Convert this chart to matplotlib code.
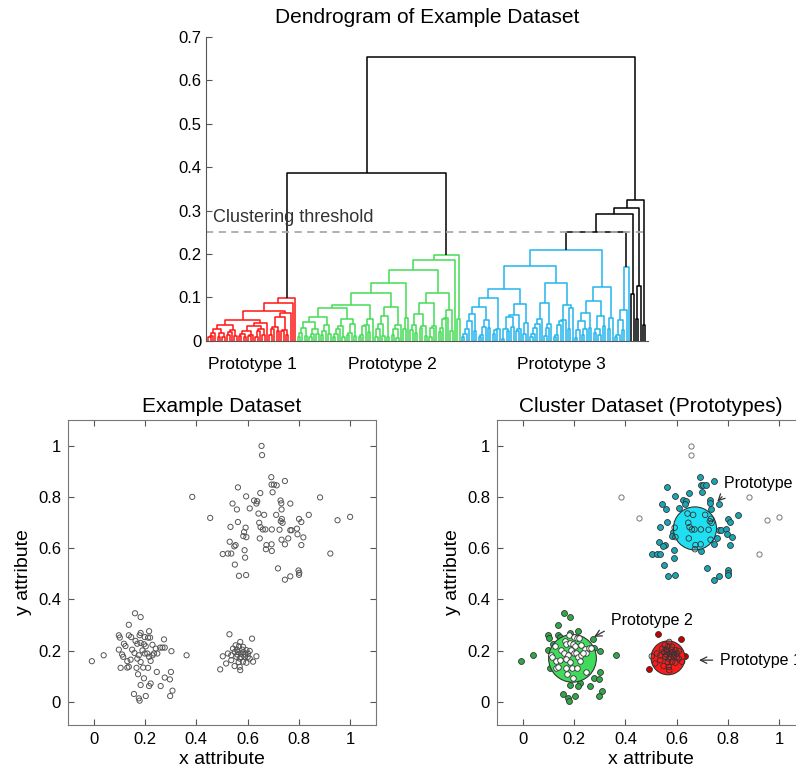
import numpy as np
import matplotlib
matplotlib.use('Agg')
import matplotlib.pyplot as plt
from matplotlib.patches import Circle
from matplotlib.ticker import FuncFormatter

plt.rcParams['font.family'] = ['Liberation Sans', 'DejaVu Sans']

# points
red_x = [0.529, 0.617, 0.571, 0.553, 0.566, 0.582, 0.543, 0.558, 0.595, 0.608,
         0.562, 0.575, 0.601, 0.584, 0.503, 0.536, 0.556, 0.588, 0.634, 0.569,
         0.608, 0.621, 0.516, 0.582, 0.595, 0.549, 0.569, 0.493, 0.571, 0.536,
         0.523, 0.579, 0.560, 0.590, 0.550, 0.575, 0.600, 0.565]
red_y = [0.264, 0.247, 0.234, 0.221, 0.217, 0.215, 0.208, 0.204, 0.202, 0.199,
         0.195, 0.189, 0.189, 0.194, 0.178, 0.182, 0.176, 0.176, 0.178, 0.169,
         0.169, 0.157, 0.150, 0.157, 0.153, 0.140, 0.137, 0.127, 0.124, 0.163,
         0.189, 0.204, 0.185, 0.185, 0.195, 0.175, 0.175, 0.155]

green_x = [0.161, 0.183, 0.137, 0.098, 0.102, 0.137, 0.146, 0.183, 0.179, 0.199,
           0.212, 0.220, 0.216, 0.163, 0.170, 0.183, 0.274, 0.118, 0.124, 0.196,
           0.203, 0.229, 0.242, 0.248, 0.259, 0.268, 0.277, 0.098, 0.150, 0.159,
           0.190, 0.199, 0.209, 0.303, 0.362, 0.039, -0.007, 0.111, 0.115, 0.176,
           0.170, 0.216, 0.229, 0.235, 0.131, 0.144, 0.183, 0.222, 0.105, 0.131,
           0.137, 0.167, 0.193, 0.212, 0.246, 0.301, 0.173, 0.196, 0.277, 0.297,
           0.222, 0.216, 0.183, 0.261, 0.307, 0.298, 0.157, 0.176, 0.179, 0.203]
green_y = [0.346, 0.331, 0.301, 0.260, 0.251, 0.260, 0.253, 0.269, 0.260, 0.253,
           0.251, 0.251, 0.276, 0.238, 0.227, 0.230, 0.244, 0.227, 0.218, 0.225,
           0.217, 0.223, 0.208, 0.189, 0.212, 0.212, 0.212, 0.204, 0.204, 0.191,
           0.201, 0.189, 0.189, 0.198, 0.182, 0.182, 0.159, 0.185, 0.176, 0.182,
           0.169, 0.176, 0.182, 0.189, 0.159, 0.165, 0.156, 0.160, 0.133, 0.134,
           0.137, 0.133, 0.134, 0.133, 0.117, 0.117, 0.108, 0.092, 0.095, 0.088,
           0.072, 0.062, 0.066, 0.062, 0.044, 0.023, 0.031, 0.014, 0.005, 0.023]

cyan_x = [0.692, 0.745, 0.693, 0.702, 0.713, 0.697, 0.649, 0.562, 0.594, 0.625,
          0.637, 0.634, 0.541, 0.558, 0.608, 0.728, 0.731, 0.766, 0.642, 0.664,
          0.711, 0.732, 0.733, 0.729, 0.736, 0.800, 0.809, 0.838, 0.562, 0.533,
          0.645, 0.650, 0.659, 0.669, 0.694, 0.724, 0.766, 0.771, 0.792, 0.592,
          0.586, 0.583, 0.595, 0.647, 0.732, 0.758, 0.794, 0.817, 0.530, 0.553,
          0.548, 0.673, 0.693, 0.745, 0.809, 0.671, 0.694, 0.588, 0.590, 0.503,
          0.523, 0.536, 0.550, 0.718, 0.798, 0.801, 0.800, 0.566, 0.594, 0.745,
          0.766]
cyan_y = [0.877, 0.862, 0.848, 0.848, 0.845, 0.818, 0.815, 0.837, 0.802, 0.786,
          0.783, 0.774, 0.774, 0.751, 0.755, 0.786, 0.775, 0.774, 0.735, 0.730,
          0.730, 0.751, 0.714, 0.705, 0.699, 0.714, 0.702, 0.730, 0.702, 0.683,
          0.699, 0.682, 0.673, 0.673, 0.673, 0.672, 0.670, 0.670, 0.676, 0.680,
          0.663, 0.647, 0.643, 0.638, 0.633, 0.638, 0.654, 0.642, 0.625, 0.612,
          0.607, 0.612, 0.615, 0.615, 0.612, 0.596, 0.589, 0.592, 0.563, 0.577,
          0.579, 0.579, 0.536, 0.521, 0.513, 0.504, 0.496, 0.492, 0.495, 0.477,
          0.490]

outlier_x = [0.654, 0.656, 0.384, 0.454, 0.882, 0.950, 0.999, 0.922]
outlier_y = [0.999, 0.963, 0.800, 0.718, 0.798, 0.709, 0.722, 0.579]

# prototypes: order red, green, cyan
proto_names = ['Prototype 1', 'Prototype 2', 'Prototype 3']
proto_x = [0.566, 0.194, 0.671]
proto_y = [0.172, 0.170, 0.677]
proto_r = [0.066, 0.093, 0.084]

threshold = 0.25

groups_x = [red_x, green_x, cyan_x, outlier_x]
groups_y = [red_y, green_y, cyan_y, outlier_y]
pts = np.array([(x, y) for gx, gy in zip(groups_x, groups_y) for x, y in zip(gx, gy)])
grp = np.concatenate([np.full(len(g), k) for k, g in enumerate(groups_x)])
n = len(pts)

# average linkage (UPGMA)
D = np.sqrt(((pts[:, None, :] - pts[None, :, :]) ** 2).sum(-1))
np.fill_diagonal(D, np.inf)
ids = list(range(n))
sizes = np.ones(n)
children = {}
next_id = n
for step in range(n - 1):
    i, j = np.unravel_index(np.argmin(D), D.shape)
    h = D[i, j]
    children[next_id] = (ids[i], ids[j], h)
    new = (sizes[i] * D[i] + sizes[j] * D[j]) / (sizes[i] + sizes[j])
    D[i, :] = new
    D[:, i] = new
    D[i, i] = np.inf
    D[j, :] = np.inf
    D[:, j] = np.inf
    sizes[i] += sizes[j]
    ids[i] = next_id
    next_id += 1
root = next_id - 1

leaf_cache = {}
def leaves(node):
    if node < n:
        return [node]
    if node not in leaf_cache:
        a, b, _ = children[node]
        leaf_cache[node] = leaves(a) + leaves(b)
    return leaf_cache[node]

def height(node):
    return 0.0 if node < n else children[node][2]

xpos = {}
order = []
links = []
def place(node):
    if node < n:
        order.append(node)
        xpos[node] = len(order)
        return
    a, b, h = children[node]
    la, lb = leaves(a), leaves(b)
    ka = (grp[la].min(), -len(la))
    kb = (grp[lb].min(), -len(lb))
    if ka > kb:
        a, b = b, a
    place(a)
    place(b)
    xpos[node] = (xpos[a] + xpos[b]) / 2
    links.append((a, b, node))

place(root)

dend_colors = ['#ff1414', '#44dd55', '#22b4ee', 'black']

def link_color(node):
    h = height(node)
    if h >= threshold:
        return 'black'
    g = np.bincount(grp[leaves(node)], minlength=4).argmax()
    return dend_colors[g]

fig = plt.figure(figsize=(7.96, 7.82), dpi=100)

# dendrogram
axd = fig.add_axes([0.2588, 0.564, 0.555, 0.389])
for a, b, node in links:
    h = height(node)
    axd.plot([xpos[a], xpos[a], xpos[b], xpos[b]],
             [height(a), h, h, height(b)],
             color=link_color(node), lw=1.1, solid_capstyle='butt')
axd.axhline(threshold, color='#aaaaaa', lw=1.3, ls=(0, (4, 3)))
axd.text(0.016, 0.284, 'Clustering threshold', transform=axd.get_yaxis_transform(),
         fontsize=13, color='#333333', va='center')
axd.set_xlim(0, n + 1)
axd.set_ylim(0, 0.7)
axd.set_xticks([])
axd.set_yticks(np.arange(0, 0.71, 0.1))
axd.yaxis.set_major_formatter(FuncFormatter(lambda v, p: f'{v:g}'))
axd.tick_params(axis='y', direction='in', length=4, labelsize=12, pad=3, color='#555555')
for s in ['top', 'right']:
    axd.spines[s].set_visible(False)
for s in ['left', 'bottom']:
    axd.spines[s].set_color('#555555')
for name, fx in zip(proto_names, [0.106, 0.421, 0.805]):
    axd.text(fx, -0.076, name, transform=axd.transAxes, ha='center', va='center', fontsize=12.5)
axd.set_title('Dendrogram of Example Dataset', fontsize=15, pad=10)

def style_scatter(ax, title):
    ax.set_xlim(-0.1, 1.1)
    ax.set_ylim(-0.09, 1.1)
    ax.set_xticks([0, 0.2, 0.4, 0.6, 0.8, 1])
    ax.set_yticks([0, 0.2, 0.4, 0.6, 0.8, 1])
    fmt = FuncFormatter(lambda v, p: f'{v:g}')
    ax.xaxis.set_major_formatter(fmt)
    ax.yaxis.set_major_formatter(fmt)
    ax.tick_params(direction='in', top=True, right=True, length=4, labelsize=12,
                   pad=5, color='#555555')
    for s in ax.spines.values():
        s.set_color('#777777')
    ax.set_xlabel('x attribute', fontsize=14, labelpad=3)
    ax.set_ylabel('y attribute', fontsize=14, labelpad=4)
    ax.set_title(title, fontsize=15, pad=6)

# example dataset
ax1 = fig.add_axes([0.0854, 0.0729, 0.387, 0.390])
ax1.scatter(pts[:, 0], pts[:, 1], s=14, facecolors='none', edgecolors='#555555', linewidths=0.7)
style_scatter(ax1, 'Example Dataset')

# cluster dataset
ax2 = fig.add_axes([0.6244, 0.0729, 0.387, 0.390])
dot_colors = ['#c40000', '#2ea84a', '#16a6b6']
circle_colors = ['#ff1a1a', '#3fdc5c', '#1ee0f2']
inside_face = ['none', 'white', 'none']
ax2.scatter(outlier_x, outlier_y, s=14, facecolors='white', edgecolors='#777777', linewidths=0.7)
for k in range(3):
    gx = np.array(groups_x[k])
    gy = np.array(groups_y[k])
    inside = np.hypot(gx - proto_x[k], gy - proto_y[k]) < proto_r[k]
    ax2.scatter(gx[~inside], gy[~inside], s=18, color=dot_colors[k], edgecolors='#333333',
                linewidths=0.6, zorder=2)
    ax2.add_patch(Circle((proto_x[k], proto_y[k]), proto_r[k], facecolor=circle_colors[k],
                         edgecolor='#333333', lw=0.8, zorder=3))
    ax2.scatter(gx[inside], gy[inside], s=16, facecolors=inside_face[k], edgecolors='#333333',
                linewidths=0.6, zorder=4)

annot = [((0.687, 0.163), (0.767, 0.163), (0, 0.5)),
         ((0.278, 0.254), (0.343, 0.319), (0, 0)),
         ((0.758, 0.782), (0.783, 0.852), (0.05, 0))]
for name, (xy, xyt, rp) in zip(proto_names, annot):
    ax2.annotate(name, xy=xy, xytext=xyt, fontsize=11.5, va='center', ha='left',
                 annotation_clip=False,
                 arrowprops=dict(arrowstyle='->', color='#333333', lw=0.9, relpos=rp,
                                 shrinkA=3, shrinkB=0))
style_scatter(ax2, 'Cluster Dataset (Prototypes)')

fig.savefig('out.png', dpi=100)
